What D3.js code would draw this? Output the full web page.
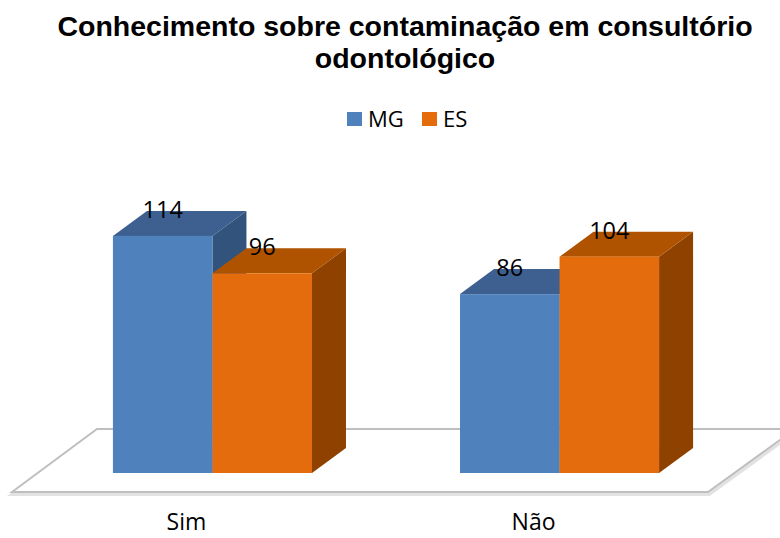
<!DOCTYPE html>
<html>
<head>
<meta charset="utf-8">
<script src="https://cdn.jsdelivr.net/npm/d3@7"></script>
<style>
  body { margin: 0; background: #fff; }
  svg { display: block; }
</style>
</head>
<body>
<div id="chart"></div>
<script>
// Chart data
const categories = ['Sim', 'Não'];
const seriesNames = ['MG', 'ES'];
const mgValues = [114, 86];
const esValues = [96, 104];
const titleLines = ['Conhecimento sobre contaminação em consultório', 'odontológico'];

const width = 780, height = 538;

// Colors: front / top / side for each series
const seriesColors = {
    MG: { front: '#4f81bd', top: '#3c6190', side: '#31527c' },
    ES: { front: '#e46c0a', top: '#b05304', side: '#8f4203' },
};

// 3D depth offset
const depth = { dx: 34, dy: -25 };

const svg = d3.select('#chart').append('svg')
    .attr('width', width)
    .attr('height', height);

const defs = svg.append('defs');
defs.append('filter').attr('id', 'soft')
    .attr('x', '-10%').attr('y', '-10%').attr('width', '120%').attr('height', '120%')
    .append('feGaussianBlur').attr('stdDeviation', 0.6);

// Scales
const x = d3.scaleBand()
    .domain(categories)
    .range([39, 733])
    .paddingInner(0.4265)
    .paddingOuter(0.213);

const xs = d3.scaleBand()
    .domain(seriesNames)
    .range([0, x.bandwidth()]);

const y = d3.scaleLinear()
    .domain([0, 120])
    .range([473, 473 - 120 * 2.08]);

const bodyFont = '"Open Sans", "Noto Sans", sans-serif';

// Title
svg.append('text')
    .attr('text-anchor', 'middle')
    .style('font-family', '"Liberation Sans", Arial, sans-serif')
    .style('font-weight', 'bold')
    .style('font-size', '28.5px')
    .style('fill', '#000')
    .selectAll('tspan')
    .data(titleLines)
    .enter()
    .append('tspan')
    .attr('x', 405)
    .attr('y', (d, i) => 36 + i * 32)
    .text(d => d);

// Legend
const legend = svg.append('g').attr('transform', 'translate(347, 112)');
const legendX = [0, 75];
seriesNames.forEach((s, i) => {
    const g = legend.append('g').attr('transform', `translate(${legendX[i]}, 0)`);
    g.append('rect')
        .attr('width', 15).attr('height', 14)
        .attr('fill', seriesColors[s].front);
    g.append('text')
        .attr('x', 21).attr('y', 14.5)
        .style('font-family', bodyFont)
        .style('font-size', '22px')
        .style('fill', '#000')
        .text(s);
});

// Floor (parallelogram)
const floorFront = 492, floorBack = 429;
const floorPts = [[12, floorFront], [97, floorBack], [795, floorBack], [708, floorFront]];
svg.append('path')
    .attr('d', d3.line()(floorPts) + 'Z')
    .attr('fill', '#fff')
    .attr('stroke', '#e2e2e2')
    .attr('stroke-width', 4)
    .attr('transform', 'translate(1,2)');
svg.append('path')
    .attr('d', d3.line()(floorPts) + 'Z')
    .attr('fill', '#fff')
    .attr('stroke', '#bfbfbf')
    .attr('stroke-width', 2);

// Bars
const rows = categories.map((c, i) => [
    { cat: c, series: 'MG', value: mgValues[i] },
    { cat: c, series: 'ES', value: esValues[i] },
]);

const barsG = svg.append('g').attr('filter', 'url(#soft)');
rows.flat().forEach(d => {
    const x0 = x(d.cat) + xs(d.series);
    const x1 = x0 + xs.bandwidth();
    const y0 = y(0);
    const y1 = y(d.value);
    const c = seriesColors[d.series];
    const g = barsG.append('g');
    // side face
    g.append('path')
        .attr('d', d3.line()([[x1, y1], [x1 + depth.dx, y1 + depth.dy], [x1 + depth.dx, y0 + depth.dy], [x1, y0]]) + 'Z')
        .attr('fill', c.side);
    // top face
    g.append('path')
        .attr('d', d3.line()([[x0, y1], [x0 + depth.dx, y1 + depth.dy], [x1 + depth.dx, y1 + depth.dy], [x1, y1]]) + 'Z')
        .attr('fill', c.top);
    // front face
    g.append('rect')
        .attr('x', x0).attr('y', y1)
        .attr('width', x1 - x0).attr('height', y0 - y1)
        .attr('fill', c.front);
});

// Value labels
svg.append('g').selectAll('text')
    .data(rows.flat())
    .enter()
    .append('text')
    .attr('x', d => x(d.cat) + xs(d.series) + xs.bandwidth() / 2)
    .attr('y', d => y(d.value) + depth.dy + 7)
    .attr('text-anchor', 'middle')
    .style('font-family', bodyFont)
    .style('font-size', '23.5px')
    .style('fill', '#000')
    .text(d => d.value);

// Category labels
svg.append('g').selectAll('text')
    .data(categories)
    .enter()
    .append('text')
    .attr('x', d => x(d) + x.bandwidth() / 2 - 26)
    .attr('y', 530)
    .attr('text-anchor', 'middle')
    .style('font-family', bodyFont)
    .style('font-size', '23px')
    .style('fill', '#000')
    .text(d => d);
</script>
</body>
</html>
